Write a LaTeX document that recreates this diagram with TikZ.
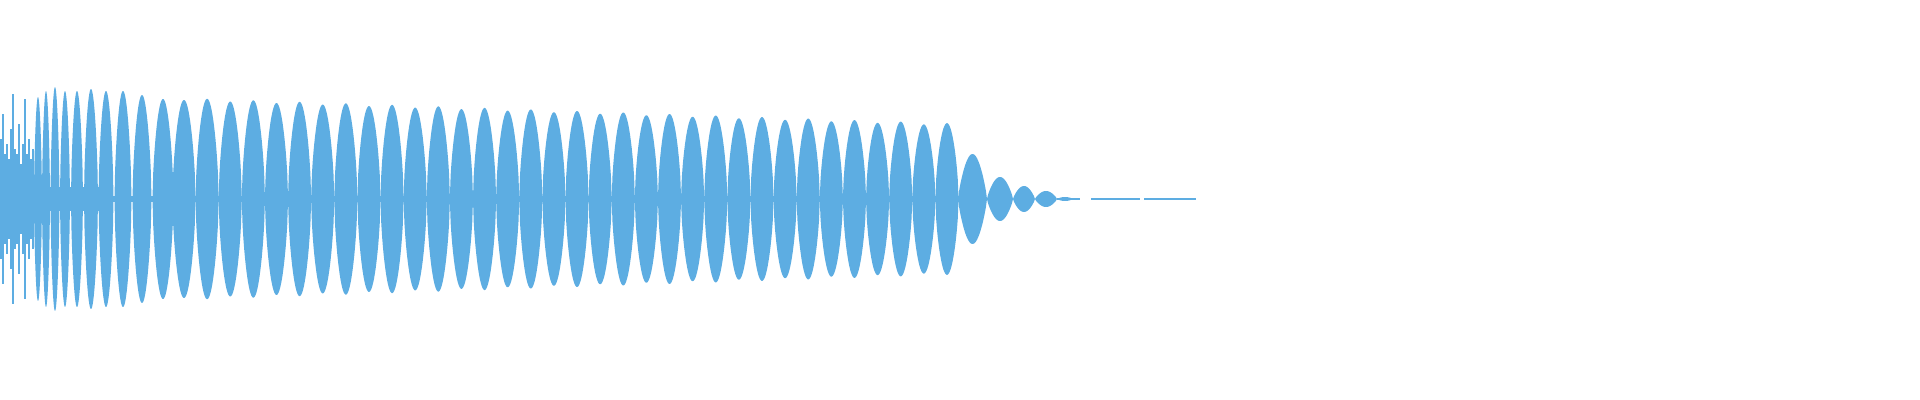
\documentclass[tikz,border=0pt]{standalone}
\definecolor{wave}{RGB}{93,173,226}
\begin{document}
\begin{tikzpicture}[x=0.01cm,y=0.01cm]
\useasboundingbox (0,-201) rectangle (1920,199);
\tikzset{lobe/.style={fill=wave}}
% center band
\fill[wave] (0,-3) rectangle (960,3);
\fill[wave] (0,-12) rectangle (100,12);
% chaotic onset spikes
\foreach \x/\a in {1/60,3/85,5/45,7/55,9/40,11/70,13/105,15/50,17/45,19/75,21/35,23/55,25/100,27/45,29/60,31/40,33/50}
  \fill[wave] (\x-0.6,-\a) rectangle (\x+0.6,\a);
% early lobes
\foreach \c/\w/\A in {38/4/102,46/4/108,55/4.5/112,65/5/108,77/6/108,91/7/110,106/7.5/108,123/8.5/108,142/9.5/104,163/10.5/100}
  \fill[lobe] plot[domain=0:180,samples=30] ({\c-\w+2*\w*\x/180},{\A*sin(\x)^0.6})
     -- plot[domain=180:0,samples=30] ({\c-\w+2*\w*\x/180},{-\A*sin(\x)^0.6}) -- cycle;
% steady lobes
\foreach \k in {0,...,33}{
  \pgfmathsetmacro{\c}{184+23.12*\k}
  \pgfmathsetmacro{\A}{99-0.033*(\c-184)+2*mod(\k,2)}
  \fill[lobe] plot[domain=0:180,samples=30] ({\c-11.6+23.2*\x/180},{\A*sin(\x)^0.6})
     -- plot[domain=180:0,samples=30] ({\c-11.6+23.2*\x/180},{-\A*sin(\x)^0.6}) -- cycle;
}
% decay lobes
\foreach \l/\r/\A in {958/987/45,987/1013/22,1013/1035/13,1035/1057/8,1057/1073/2}
  \fill[lobe] plot[domain=0:180,samples=30] ({\l+(\r-\l)*\x/180},{\A*sin(\x)^0.8})
     -- plot[domain=180:0,samples=30] ({\l+(\r-\l)*\x/180},{-\A*sin(\x)^0.8}) -- cycle;
\fill[wave] (1057,-0.6) rectangle (1080,0.6);
% tail lines
\fill[wave] (1091,-0.6) rectangle (1140,0.6);
\fill[wave] (1106,-1.2) rectangle (1135,1.2);
\fill[wave] (1144,-0.6) rectangle (1196,0.6);
\fill[wave] (1150,-1.2) rectangle (1183,1.2);
\end{tikzpicture}
\end{document}
